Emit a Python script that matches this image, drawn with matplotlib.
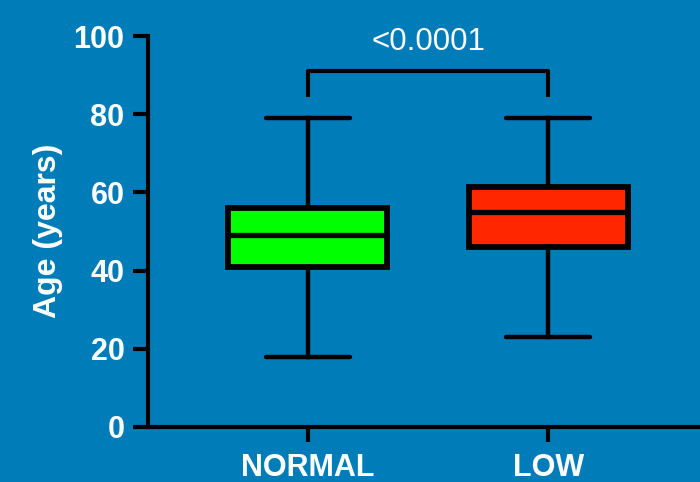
import matplotlib.pyplot as plt

# valores
grupos = ['NORMAL', 'LOW']
bigote_min = [18, 23]
q1 = [40.8, 46]
mediana = [49, 55]
q3 = [56, 61.5]
bigote_max = [79, 79]
colores = ['#00FF00', '#FF2600']
p_texto = '<0.0001'
y_barra = 91
y_patas = 85

fondo = '#007DB8'
plt.rcParams['font.family'] = ['Liberation Sans', 'DejaVu Sans']

fig = plt.figure(figsize=(7, 4.82), dpi=100, facecolor=fondo)
ax = fig.add_axes([148 / 700, 55 / 482, 552 / 700, 391 / 482])
ax.set_facecolor(fondo)

stats = []
for i, g in enumerate(grupos):
    stats.append({'label': g, 'whislo': bigote_min[i], 'q1': q1[i], 'med': mediana[i],
                  'q3': q3[i], 'whishi': bigote_max[i]})

pos = [1, 2]
bp = ax.bxp(stats, positions=pos, widths=0.66, capwidths=0.35, patch_artist=True,
            showfliers=False,
            boxprops=dict(linewidth=4.2, edgecolor='black'),
            medianprops=dict(color='black', linewidth=3.8),
            whiskerprops=dict(color='black', linewidth=3.2),
            capprops=dict(color='black', linewidth=3.2, solid_capstyle='round'))
for caja, c in zip(bp['boxes'], colores):
    caja.set_facecolor(c)

# barra de significancia
ax.plot([pos[0], pos[0], pos[1], pos[1]], [y_patas, y_barra, y_barra, y_patas],
        color='black', lw=3, clip_on=False)
ax.text((pos[0] + pos[1]) / 2, 98.5, p_texto, color='white', fontsize=22.5,
        ha='center', va='center', clip_on=False)

ax.set_ylim(0, 100)
ax.set_xlim(1 - 160 / 241, 2 + 152 / 241)
ax.set_yticks([0, 20, 40, 60, 80, 100])
ax.set_xticks(pos)
ax.set_xticklabels(grupos)

for s in ['top', 'right']:
    ax.spines[s].set_visible(False)
for s in ['left', 'bottom']:
    ax.spines[s].set_linewidth(3)
    ax.spines[s].set_color('black')

ax.tick_params(axis='both', colors='black', width=3, length=11, labelcolor='white',
               labelsize=22)
ax.tick_params(axis='y', pad=6)
ax.tick_params(axis='x', pad=8)
for t in ax.get_xticklabels() + ax.get_yticklabels():
    t.set_fontweight('bold')

fig.text(48 / 700, (482 - 231) / 482, 'Age (years)', rotation=90, color='white',
         fontsize=23, fontweight='bold', ha='center', va='center')

fig.savefig('out.png', dpi=100, facecolor=fondo)
